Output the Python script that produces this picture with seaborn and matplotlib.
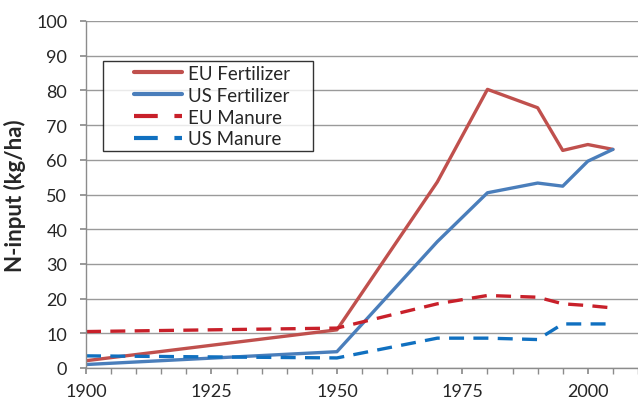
import matplotlib
matplotlib.use("Agg")
import matplotlib.pyplot as plt
import seaborn as sns
import pandas as pd
import numpy as np

years = [1900, 1950, 1970, 1980, 1990, 1995, 2000, 2005]
eu_fert = [2.1, 11.0, 53.6, 80.3, 75.0, 62.7, 64.4, 63.0]
us_fert = [1.0, 4.7, 36.4, 50.5, 53.3, 52.4, 59.6, 63.0]
eu_manure = [10.5, 11.5, 18.5, 20.9, 20.4, 18.5, 18.0, 17.3]
us_manure = [3.5, 2.9, 8.6, 8.6, 8.2, 12.7, 12.7, 12.7]
series_names = ["EU Fertilizer", "US Fertilizer", "EU Manure", "US Manure"]
x_ticks = [1900, 1925, 1950, 1975, 2000]
y_ticks = [0, 10, 20, 30, 40, 50, 60, 70, 80, 90, 100]

sns.set_theme(style="white")
plt.rcParams["font.family"] = ["Lato", "DejaVu Sans"]

rows = []
for name, vals in zip(series_names, [eu_fert, us_fert, eu_manure, us_manure]):
    for y, v in zip(years, vals):
        rows.append({"Year": y, "Value": v, "Series": name})
df = pd.DataFrame(rows)

palette = {"EU Fertilizer": "#C0504D", "US Fertilizer": "#4A7EBB",
           "EU Manure": "#C8202A", "US Manure": "#1070C0"}
dashes = {"EU Fertilizer": "", "US Fertilizer": "",
          "EU Manure": (4.5, 2.8), "US Manure": (4.5, 2.8)}

fig = plt.figure(figsize=(6.38, 4.02), dpi=100)
ax = fig.add_axes([86/638, 1-369/402, 1-86/638, (369-22)/402])

sns.lineplot(data=df, x="Year", y="Value", hue="Series", style="Series",
             palette=palette, dashes=dashes, hue_order=series_names,
             style_order=series_names, linewidth=2.4, ax=ax, legend=True)

ax.set_xlim(1900, 2010)
ax.set_ylim(0, 100)
ax.set_xticks(x_ticks)
ax.set_xticks(np.arange(1900, 2011, 5), minor=True)
ax.set_yticks(y_ticks)
ax.yaxis.grid(True, color="#9a9a9a", linewidth=1.0)
ax.set_axisbelow(True)
for s in ["top", "right"]:
    ax.spines[s].set_visible(False)
for s in ["left", "bottom"]:
    ax.spines[s].set_color("#8c8c8c")
    ax.spines[s].set_linewidth(1.0)
ax.tick_params(axis="x", which="both", direction="out", length=4.5, color="#8c8c8c",
               bottom=True, labelsize=13, pad=6.5)
ax.tick_params(axis="y", direction="out", length=4.5, color="#8c8c8c", left=True,
               labelsize=13, pad=9)
ax.set_xlabel("")
ax.set_ylabel("N-input (kg/ha)", fontsize=16, fontweight="bold", labelpad=7)

fs = 13.5
leg = ax.legend(loc="upper left", bbox_to_anchor=(17/552, 1-40/347, 210/552, 0),
                mode="expand", borderaxespad=0, fontsize=fs,
                frameon=True, fancybox=False, edgecolor="black", handlelength=4.0,
                borderpad=0.2, labelspacing=0.26, handletextpad=0.35)
leg.get_frame().set_linewidth(1.0)
for line in leg.get_lines():
    line.set_linewidth(3)
    x = np.asarray(line.get_xdata(), dtype=float)
    x0, x1 = x[0], x[-1]
    line.set_xdata(np.linspace(x0 + 0.36 * (x1 - x0), x1, len(x)))
    if line.get_linestyle() not in ("-", "solid"):
        line.set_dashes((5.7, 4.0))

fig.savefig("out.png", dpi=100)
